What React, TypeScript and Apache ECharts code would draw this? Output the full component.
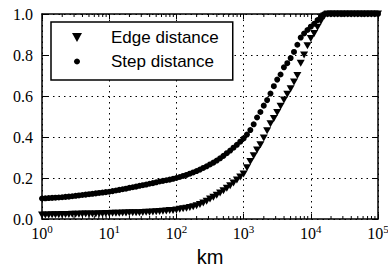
import React, { useEffect, useRef } from "react";
import * as echarts from "echarts";

// log10(km) sample positions
const kmExp = [
  0.0, 0.05, 0.1, 0.15, 0.2, 0.25, 0.3, 0.35, 0.4, 0.45,
  0.5, 0.55, 0.6, 0.65, 0.7, 0.75, 0.8, 0.85, 0.9, 0.95,
  1.0, 1.05, 1.1, 1.15, 1.2, 1.25, 1.3, 1.35, 1.4, 1.45,
  1.5, 1.55, 1.6, 1.65, 1.7, 1.75, 1.8, 1.85, 1.9, 1.95,
  2.0, 2.05, 2.1, 2.15, 2.2, 2.25, 2.3, 2.35, 2.4, 2.45,
  2.5, 2.55, 2.6, 2.65, 2.7, 2.75, 2.8, 2.85, 2.9, 2.95,
  3.0, 3.05, 3.1, 3.15, 3.2, 3.25, 3.3, 3.35, 3.4, 3.45,
  3.5, 3.55, 3.6, 3.65, 3.7, 3.75, 3.8, 3.85, 3.9, 3.95,
  4.0, 4.05, 4.1, 4.15, 4.2, 4.25, 4.3, 4.35, 4.4, 4.45,
  4.5, 4.55, 4.6, 4.65, 4.7, 4.75, 4.8, 4.85, 4.9, 4.95,
  5.0,
];

const edgeDistance = [
  0.020, 0.020, 0.020, 0.021, 0.021, 0.021, 0.022, 0.022, 0.022, 0.023,
  0.023, 0.023, 0.024, 0.024, 0.024, 0.025, 0.025, 0.026, 0.026, 0.027,
  0.027, 0.028, 0.028, 0.028, 0.029, 0.029, 0.030, 0.030, 0.031, 0.031,
  0.032, 0.033, 0.033, 0.034, 0.035, 0.036, 0.038, 0.039, 0.041, 0.042,
  0.044, 0.047, 0.050, 0.053, 0.056, 0.060, 0.065, 0.071, 0.078, 0.087,
  0.097, 0.106, 0.116, 0.127, 0.138, 0.150, 0.162, 0.176, 0.190, 0.205,
  0.220, 0.250, 0.280, 0.308, 0.337, 0.362, 0.395, 0.430, 0.465, 0.490,
  0.520, 0.550, 0.580, 0.608, 0.635, 0.668, 0.700, 0.760, 0.800, 0.845,
  0.880, 0.905, 0.935, 0.965, 0.990, 1.0, 1.0, 1.0, 1.0, 1.0,
  1.0, 1.0, 1.0, 1.0, 1.0, 1.0, 1.0, 1.0, 1.0, 1.0,
  1.0,
];

const stepDistance = [
  0.100, 0.101, 0.102, 0.103, 0.104, 0.105, 0.106, 0.108, 0.109, 0.111,
  0.113, 0.115, 0.117, 0.119, 0.121, 0.123, 0.125, 0.127, 0.129, 0.131,
  0.133, 0.136, 0.139, 0.142, 0.145, 0.148, 0.152, 0.155, 0.158, 0.162,
  0.165, 0.168, 0.172, 0.175, 0.179, 0.183, 0.186, 0.189, 0.192, 0.196,
  0.200, 0.205, 0.210, 0.215, 0.221, 0.227, 0.234, 0.241, 0.249, 0.257,
  0.266, 0.275, 0.285, 0.296, 0.308, 0.321, 0.334, 0.348, 0.362, 0.377,
  0.393, 0.412, 0.434, 0.462, 0.495, 0.522, 0.553, 0.580, 0.612, 0.648,
  0.680, 0.705, 0.740, 0.760, 0.785, 0.815, 0.850, 0.885, 0.905, 0.922,
  0.938, 0.952, 0.970, 0.988, 1.0, 1.0, 1.0, 1.0, 1.0, 1.0,
  1.0, 1.0, 1.0, 1.0, 1.0, 1.0, 1.0, 1.0, 1.0, 1.0,
  1.0,
];

const seriesNames = ["Edge distance", "Step distance"];
const xAxisName = "km";

const SERIF = "Liberation Serif";
const SANS = "Liberation Sans";

export default function App() {
  const ref = useRef<HTMLDivElement>(null);
  useEffect(() => {
    if (!ref.current) return;
    const chart = echarts.init(ref.current, null, { renderer: "svg" });
    const km = kmExp.map((e) => Math.pow(10, e));
    const edgeData = km.map((x, i) => [x, edgeDistance[i]]);
    const stepData = km.map((x, i) => [x, stepDistance[i]]);
    const minorTicks: number[][] = [];
    for (let d = 1; d < 100000; d *= 10) {
      for (let m = 2; m <= 9; m++) minorTicks.push([d * m]);
    }
    const axisLine = { show: true, onZero: false, lineStyle: { color: "#000", width: 1.5 } };
    const gridLine = { show: true, lineStyle: { color: "#000", width: 1, type: [1.5, 4] as any } };
    chart.setOption({
      animation: false,
      backgroundColor: "#fff",
      grid: { left: 42, top: 14, right: 10, bottom: 51, containLabel: false, outerBoundsMode: "none" },
      xAxis: [
        {
          type: "log",
          logBase: 10,
          min: 1,
          max: 100000,
          position: "bottom",
          axisLine,
          axisTick: { show: true, inside: true, length: 5, lineStyle: { color: "#000", width: 1 } },
          splitLine: gridLine,
          minorTick: { show: false },
          axisLabel: {
            color: "#000",
            margin: 4,
            hideOverlap: false,
            formatter: (v: number) => `{b|10}{s|${Math.round(Math.log10(v))}}`,
            rich: {
              b: { fontFamily: SERIF, fontSize: 16, color: "#000", verticalAlign: "bottom" },
              s: { fontFamily: SERIF, fontSize: 11, color: "#000", verticalAlign: "bottom", padding: [0, 0, 7, 0] },
            },
          },
          name: xAxisName,
          nameLocation: "middle",
          nameGap: 28,
          nameTextStyle: { fontFamily: SANS, fontSize: 20, color: "#000" },
        },
        {
          type: "log",
          logBase: 10,
          min: 1,
          max: 100000,
          position: "top",
          axisLine,
          axisTick: { show: true, inside: true, length: 5, lineStyle: { color: "#000", width: 1 } },
          splitLine: { show: false },
          axisLabel: { show: false },
        },
      ],
      yAxis: [
        {
          type: "value",
          min: 0,
          max: 1,
          interval: 0.2,
          position: "left",
          axisLine,
          axisTick: { show: true, inside: true, length: 6, lineStyle: { color: "#000", width: 1 } },
          splitLine: gridLine,
          axisLabel: {
            color: "#000",
            fontFamily: SERIF,
            fontSize: 16,
            margin: 9,
            formatter: (v: number) => v.toFixed(1),
          },
        },
        {
          type: "value",
          min: 0,
          max: 1,
          interval: 0.2,
          position: "right",
          axisLine,
          axisTick: { show: true, inside: true, length: 6, lineStyle: { color: "#000", width: 1 } },
          splitLine: { show: false },
          axisLabel: { show: false },
        },
      ],
      legend: [
        {
          data: [{ name: seriesNames[0], icon: "path://M0,0L10,0L5,9Z" }],
          left: 51,
          top: 22,
          orient: "vertical",
          itemWidth: 10,
          itemHeight: 10,
          itemGap: 0,
          padding: [7, 14, 34, 21],
          backgroundColor: "#fff",
          borderColor: "#000",
          borderWidth: 1.5,
          borderRadius: 0,
          textStyle: { fontFamily: SANS, fontSize: 17, color: "#000", padding: [0, 0, 0, 24] },
          selectedMode: false,
          z: 10,
        },
        {
          data: [{ name: seriesNames[1], icon: "circle" }],
          left: 74,
          top: 53,
          orient: "vertical",
          itemWidth: 6,
          itemHeight: 6,
          padding: 0,
          textStyle: { fontFamily: SANS, fontSize: 17, color: "#000", padding: [0, 0, 0, 26] },
          selectedMode: false,
          z: 11,
        },
      ],
      series: [
        {
          name: seriesNames[0],
          type: "scatter",
          data: edgeData,
          symbol: "triangle",
          symbolRotate: 180,
          symbolSize: [8, 7],
          itemStyle: { color: "#000", opacity: 1 },
          z: 3,
        },
        {
          name: seriesNames[1],
          type: "scatter",
          data: stepData,
          symbol: "circle",
          symbolSize: 6,
          itemStyle: { color: "#000", opacity: 1 },
          z: 3,
        },
        {
          type: "custom",
          silent: true,
          clip: false,
          data: minorTicks,
          encode: { x: 0 },
          renderItem: (params: any, api: any) => {
            const v = api.value(0);
            const b = api.coord([v, 0]);
            const t = api.coord([v, 1]);
            return {
              type: "group",
              children: [
                { type: "line", shape: { x1: b[0], y1: b[1], x2: b[0], y2: b[1] - 3 }, style: { stroke: "#000", lineWidth: 1 } },
                { type: "line", shape: { x1: t[0], y1: t[1], x2: t[0], y2: t[1] + 3 }, style: { stroke: "#000", lineWidth: 1 } },
              ],
            };
          },
          z: 4,
        },
      ],
    });
    return () => chart.dispose();
  }, []);
  return <div ref={ref} style={{ position: "fixed", left: 0, top: 0, width: 388, height: 270 }} />;
}
